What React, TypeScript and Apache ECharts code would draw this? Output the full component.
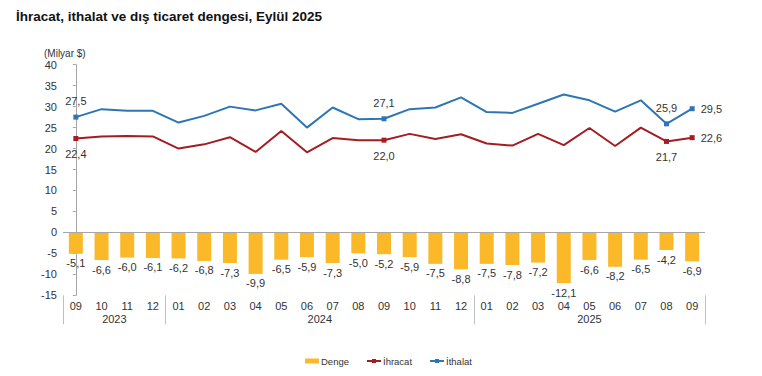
import React, { useEffect, useRef } from "react";
import * as echarts from "echarts";

const months = ["09","10","11","12","01","02","03","04","05","06","07","08","09","10","11","12","01","02","03","04","05","06","07","08","09"];
const yearLabels = ["2023", "2024", "2025"];
const yearSpans = [4, 12, 9];
const balance = [-5.1,-6.6,-6.0,-6.1,-6.2,-6.8,-7.3,-9.9,-6.5,-5.9,-7.3,-5.0,-5.2,-5.9,-7.5,-8.8,-7.5,-7.8,-7.2,-12.1,-6.6,-8.2,-6.5,-4.2,-6.9];
const exports = [22.4,22.9,23.0,22.9,20.0,21.0,22.7,19.2,24.2,19.1,22.5,22.0,22.0,23.5,22.3,23.4,21.2,20.7,23.5,20.8,24.9,20.6,25.0,21.7,22.6];
const imports = [27.5,29.4,29.0,29.0,26.2,27.8,30.0,29.1,30.7,25.0,29.8,27.0,27.1,29.4,29.8,32.2,28.7,28.5,30.7,32.9,31.5,28.8,31.5,25.9,29.5];
const labeledIdx = [0, 12, 23];
const rightLabelIdx = [24];

const FONT = "'Liberation Sans', Arial, sans-serif";
const fmt = (v: number) => v.toFixed(1).replace(".", ",");

function lineData(vals: number[], above: boolean) {
  return vals.map((v, i) => {
    if (labeledIdx.includes(i)) {
      return { value: v, symbol: "rect", label: { show: true, position: above ? "top" : "bottom", distance: 8 } };
    }
    if (rightLabelIdx.includes(i)) {
      return { value: v, symbol: "rect", label: { show: true, position: "right", distance: 6 } };
    }
    return { value: v, symbol: "none" };
  });
}

export default function App() {
  const ref = useRef<HTMLDivElement>(null);
  useEffect(() => {
    document.body.style.margin = "0";
    const chart = echarts.init(ref.current!, null, { renderer: "svg" });
    const labelVals: number[] = [];
    const tickVals: number[] = [-0.5];
    let s = 0;
    yearSpans.forEach((n) => {
      labelVals.push(s + (n - 1) / 2);
      s += n;
      tickVals.push(s - 0.5);
    });
    const yearMap: Record<string, string> = {};
    labelVals.forEach((v, i) => (yearMap[String(v)] = yearLabels[i]));

    chart.setOption({
      animation: false,
      textStyle: { fontFamily: FONT },
      title: {
        text: "İhracat, ithalat ve dış ticaret dengesi, Eylül 2025",
        left: 16,
        top: 9,
        padding: 0,
        textStyle: { fontSize: 13.5, fontWeight: "bold", color: "#111", fontFamily: FONT },
      },
      graphic: [
        {
          type: "text",
          left: 44,
          top: 48,
          style: { text: "(Milyar $)", fontSize: 10, fill: "#333", fontFamily: FONT },
        },
      ],
      legend: {
        bottom: 5,
        left: 300,
        itemGap: 17,
        itemWidth: 14,
        itemHeight: 5,
        textStyle: { fontSize: 9.5, color: "#333", fontFamily: FONT, padding: [0, 0, 0, -3] },
        data: [
          { name: "Denge", icon: "rect", itemStyle: { color: "#FBB828" } },
          { name: "İhracat" },
          { name: "İthalat" },
        ],
      },
      grid: { left: 63, right: 57, top: 64.7, bottom: 80.7, containLabel: false },
      xAxis: [
        {
          type: "category",
          data: months,
          position: "bottom",
          axisLine: { show: false },
          axisTick: { show: false },
          axisLabel: { fontSize: 11, color: "#333", margin: 5 },
        },
        {
          type: "value",
          min: -0.5,
          max: 24.5,
          position: "bottom",
          axisLine: { show: false },
          splitLine: { show: false },
          axisTick: { show: true, customValues: tickVals, length: 29, lineStyle: { color: "#BFBFBF" } },
          axisLabel: {
            customValues: labelVals,
            fontSize: 11,
            color: "#333",
            margin: 18,
            formatter: (v: number) => yearMap[String(v)] ?? "",
          },
        },
      ],
      yAxis: {
        type: "value",
        min: -15,
        max: 40,
        interval: 5,
        axisLine: { show: true, lineStyle: { color: "#A6A6A6" } },
        axisTick: { show: true, length: 3, lineStyle: { color: "#A6A6A6" } },
        splitLine: { show: false },
        axisLabel: { fontSize: 11, color: "#333", margin: 6 },
      },
      series: [
        {
          name: "Denge",
          type: "bar",
          data: balance,
          barWidth: 14,
          itemStyle: { color: "#FBB828" },
          label: {
            show: true,
            position: "bottom",
            distance: 4,
            fontSize: 11,
            color: "#333",
            formatter: (p: any) => fmt(p.value),
          },
          markLine: {
            silent: true,
            symbol: "none",
            label: { show: false },
            lineStyle: { color: "#A6A6A6", type: "solid", width: 1 },
            data: [{ yAxis: 0 }],
          },
        },
        {
          name: "İhracat",
          type: "line",
          data: lineData(exports, false),
          symbol: "rect",
          symbolSize: 5,
          lineStyle: { color: "#A31D22", width: 2 },
          itemStyle: { color: "#A31D22" },
          label: { fontSize: 11, color: "#333", formatter: (p: any) => fmt(p.value) },
        },
        {
          name: "İthalat",
          type: "line",
          data: lineData(imports, true),
          symbol: "rect",
          symbolSize: 5,
          lineStyle: { color: "#2E75B6", width: 2 },
          itemStyle: { color: "#2E75B6" },
          label: { fontSize: 11, color: "#333", formatter: (p: any) => fmt(p.value) },
        },
      ],
    });
    return () => chart.dispose();
  }, []);
  return <div ref={ref} style={{ width: 762, height: 376 }} />;
}
